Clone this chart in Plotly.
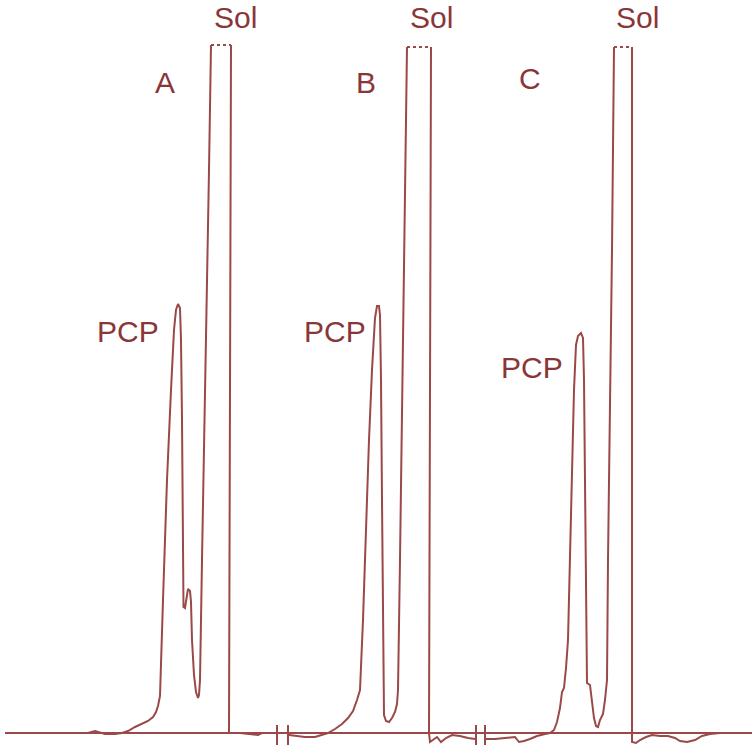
import plotly.graph_objects as go

# Chromatogram traces (x = retention position, y = detector response above baseline)
# Run A
aTime = [88, 95, 105, 115, 122, 128, 135, 142, 148, 153, 156, 158, 160, 163, 167, 171, 174, 176, 178, 180,
         181, 182, 183, 183.5, 185, 186, 188, 190, 191, 192, 194, 196, 198, 199, 200, 202, 205, 207, 209, 211]
aSignal = [0, 2, -1, -1, 0, 2, 6, 9, 12, 16, 21, 27, 37, 133, 253, 343, 403, 423, 429, 425,
           393, 313, 203, 126, 125, 133, 144, 142, 131, 93, 58, 41, 35, 38, 53, 173, 333, 433, 563, 688]
aSolTime = [211, 231, 229, 240, 250, 258, 262, 270, 276]
aSolSignal = [688, 688, 0, 0, -1, -2, 0, 0, 0]

# Run B
bTime = [289, 295, 305, 315, 322, 328, 335, 342, 348, 353, 357, 360, 363, 366, 369, 372, 375, 377, 379, 380,
         381, 382, 383, 383.5, 384, 386, 389, 392, 395, 397, 398, 400, 402, 404, 406, 407]
bSignal = [-2, -3, -4, -4, -2, 0, 4, 9, 15, 22, 33, 43, 113, 213, 293, 363, 415, 427, 427, 418,
           353, 233, 113, 33, 18, 12, 11, 15, 21, 29, 43, 173, 313, 453, 593, 686]
bSolTime = [407, 431, 429, 430, 433, 437, 441, 446, 452, 460, 468, 475]
bSolSignal = [686, 686, 0, -9, -7, -4, -9, -5, -2, -3, -5, -6]

# Run C
cTime = [486, 495, 505, 515, 519, 524, 530, 537, 545, 550, 554, 557, 560, 562, 564, 566, 568, 569, 570, 572,
         574, 576, 578, 581, 583, 584, 585, 586, 587, 590, 592, 594, 596, 598, 600, 603, 605, 607, 608, 610,
         612, 614]
cSignal = [-6, -6, -5, -4, -9, -8, -6, -3, -1, 0, 3, 11, 25, 41, 45, 65, 93, 133, 173, 263,
           343, 388, 397, 400, 395, 353, 253, 153, 50, 48, 33, 15, 7, 6, 13, 19, 33, 53, 173, 313,
           483, 686]
cSolTime = [614, 632, 632, 636, 640, 646, 652, 660, 668, 675, 680, 687, 695, 702, 710, 720]
cSolSignal = [686, 686, -9, -10, -7, -4, -2, -3, -3, -5, -8, -9, -7, -3, -1, 0]

# Chart break positions on the time axis
breakTimes = [277, 288, 476, 485]

# Labels
runLabels = ['A', 'B', 'C']
runLabelX = [165, 366, 530]
runLabelY = [651, 651, 655]
solLabelX = [235, 431, 637]
pcpLabelX = [128, 335, 532]
pcpLabelY = [402, 402, 366]

lineColor = '#9a4848'
textColor = '#8a3639'

fig = go.Figure()

for t, s in [(aTime, aSignal), (bTime, bSignal), (cTime, cSignal)]:
    fig.add_trace(go.Scatter(x=t, y=s, mode='lines', line=dict(color=lineColor, width=2), hoverinfo='skip'))

# Solvent peaks go off scale: dotted top, then the tail after the peak
for t, s in [(aSolTime, aSolSignal), (bSolTime, bSolSignal), (cSolTime, cSolSignal)]:
    fig.add_trace(go.Scatter(x=t[:2], y=s[:2], mode='lines', line=dict(color=lineColor, width=2, dash='dot'),
                             hoverinfo='skip'))
    fig.add_trace(go.Scatter(x=t[1:], y=s[1:], mode='lines', line=dict(color=lineColor, width=2),
                             hoverinfo='skip'))

# Baseline
fig.add_shape(type='line', x0=5, x1=752, y0=0, y1=0, line=dict(color=lineColor, width=2))
for b in breakTimes:
    fig.add_shape(type='line', x0=b, x1=b, y0=-12, y1=8, line=dict(color=lineColor, width=2))

font = dict(family='Liberation Sans, Arial, sans-serif', size=30, color=textColor)
for i in range(3):
    fig.add_annotation(x=runLabelX[i], y=runLabelY[i], text=runLabels[i], showarrow=False, font=font)
    fig.add_annotation(x=solLabelX[i], y=716, text='Sol', showarrow=False, font=font)
    fig.add_annotation(x=pcpLabelX[i], y=pcpLabelY[i], text='PCP', showarrow=False, font=font)

fig.update_layout(width=752, height=745, margin=dict(l=0, r=0, t=0, b=0),
                  plot_bgcolor='white', paper_bgcolor='white', showlegend=False)
fig.update_xaxes(range=[0, 752], visible=False)
fig.update_yaxes(range=[-12, 733], visible=False)

# page body has a default 8px margin, drop it so the figure sits at the window corner
fig.write_html("out.html", config={'displayModeBar': False},
               post_script="document.body.style.margin='0';")
